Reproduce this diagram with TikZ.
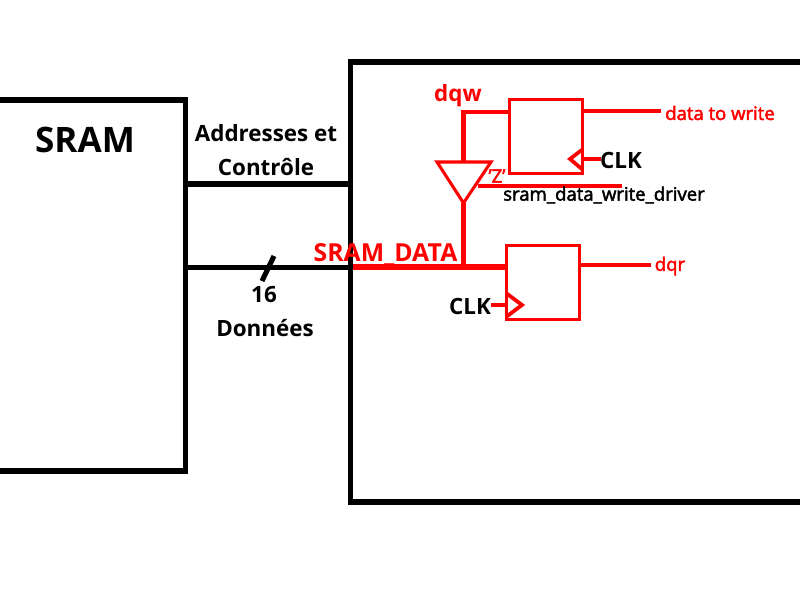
\documentclass[tikz,border=0pt]{standalone}
\usepackage{fontspec}
\setmainfont{Open Sans}
\definecolor{rd}{RGB}{255,0,0}
\newcommand{\semi}{\addfontfeature{FakeBold=2.5}}
\tikzset{
 blk/.style={draw=black,line width=3.8pt,line cap=butt,line join=miter},
 rthin/.style={draw=rd,line width=2.3pt,line join=miter},
 rclk/.style={draw=rd,line width=2.8pt,line join=miter},
 rmid/.style={draw=rd,line width=3.75pt,line join=miter},
 rbus/.style={draw=rd,line width=4pt,line join=miter},
 lab/.style={inner sep=0pt,outer sep=0pt,anchor=center,align=center},
 ffbox/.style={draw=rd,line width=2.3pt,minimum width=55.3pt,minimum height=55.5pt,inner sep=0pt},
 bigfont/.style={lab,font=\fontsize{16.8}{24}\selectfont\bfseries},
 smallfont/.style={lab,font=\fontsize{13.9}{14}\selectfont\semi}
}
\begin{document}
\begin{tikzpicture}[x=0.75pt,y=-0.75pt]
\useasboundingbox (0,0) rectangle (800,600);
\coordinate (s1) at (0,100); \coordinate (s2) at (185.5,100); \coordinate (s3) at (185.5,471); \coordinate (s4) at (0,471);
\coordinate (m1) at (802,62); \coordinate (m2) at (350.7,62); \coordinate (m3) at (350.7,502); \coordinate (m4) at (802,502);
\draw[blk] (s1) -- (s2) -- (s3) -- (s4);
\draw[blk] (m1) -- (m2) -- (m3) -- (m4);
\coordinate (a1) at (185.5,184); \coordinate (a2) at (350.7,184);
\coordinate (d1) at (185.5,267.3); \coordinate (d2) at (350.7,267.3);
\draw[blk] (a1) -- (a2);
\draw[blk] (d1) -- (d2);
\coordinate (t1) at (262,281); \coordinate (t2) at (274,256);
\draw[blk] (t1) -- (t2);
\node[lab,font=\fontsize{26.3}{30}\selectfont\bfseries] (sram) at (85,140) {SRAM};
\node[bigfont] (addr) at (266,150) {Addresses et\\[1.5pt]Contrôle};
\node[bigfont] (n16) at (264,295) {16};
\node[bigfont] (don) at (265,328) {Données};
% flip-flops
\node[ffbox] (ffw) at (546,136.5) {};
\node[ffbox] (ffr) at (543,282.5) {};
\coordinate (j) at (463.5,267); \coordinate (js) at (353,267); \coordinate (jf) at (506,267);
\draw[rbus] (js) -- (jf);
\coordinate (tipb) at (463.5,203); \coordinate (tl) at (437,162); \coordinate (tr) at (491,162); \coordinate (tt) at (463.5,162);
\draw[rmid] (j) -- (tipb);
\draw[rthin] (tl) -- (tr) -- (tipb) -- cycle;
\coordinate (cw) at (463.5,112); \coordinate (fw) at (509,112); \coordinate (cw0) at (461,112);
\draw[draw=rd,line width=4pt] (tt) -- (cw);
\draw[draw=rd,line width=3.6pt] (cw0) -- (fw);
\coordinate (ow) at (661,111); \coordinate (owa) at (583,111);
\draw[rthin] (owa) -- (ow);
\coordinate (en1) at (478,186); \coordinate (en2) at (622,186);
\draw[rthin] (en1) -- (en2);
\coordinate (or1) at (580,265); \coordinate (or2) at (651,265);
\draw[rthin] (or1) -- (or2);
\coordinate (c1a) at (583,149); \coordinate (c1b) at (570,159); \coordinate (c1c) at (583,170); \coordinate (c1d) at (601,159); \coordinate (c1e) at (583,159);
\draw[rclk] (c1a) -- (c1b) -- (c1c);
\draw[rthin] (c1e) -- (c1d);
\coordinate (c2a) at (506,293); \coordinate (c2b) at (522,305); \coordinate (c2c) at (506,317); \coordinate (c2d) at (491,305); \coordinate (c2e) at (506,305);
\draw[rclk] (c2a) -- (c2b) -- (c2c);
\draw[rthin] (c2d) -- (c2e);
% labels
\node[bigfont,text=rd] (dqw) at (458,96) {dqw};
\node[bigfont,text=rd,font=\fontsize{18.6}{20}\selectfont\bfseries] (sd) at (385.5,254) {SRAM\_DATA};
\node[smallfont,text=rd] (dtw) at (720,113) {data to write};
\node[smallfont,text=rd] (dqr) at (670,266) {dqr};
\node[smallfont,text=rd] (z) at (497,176) {\char"0027 Z\char"0027};
\node[smallfont] (drv) at (604,195) {sram\_data\_write\_driver};
\node[bigfont] (clk1) at (621,160) {CLK};
\node[bigfont] (clk2) at (470,306) {CLK};
\end{tikzpicture}
\end{document}
